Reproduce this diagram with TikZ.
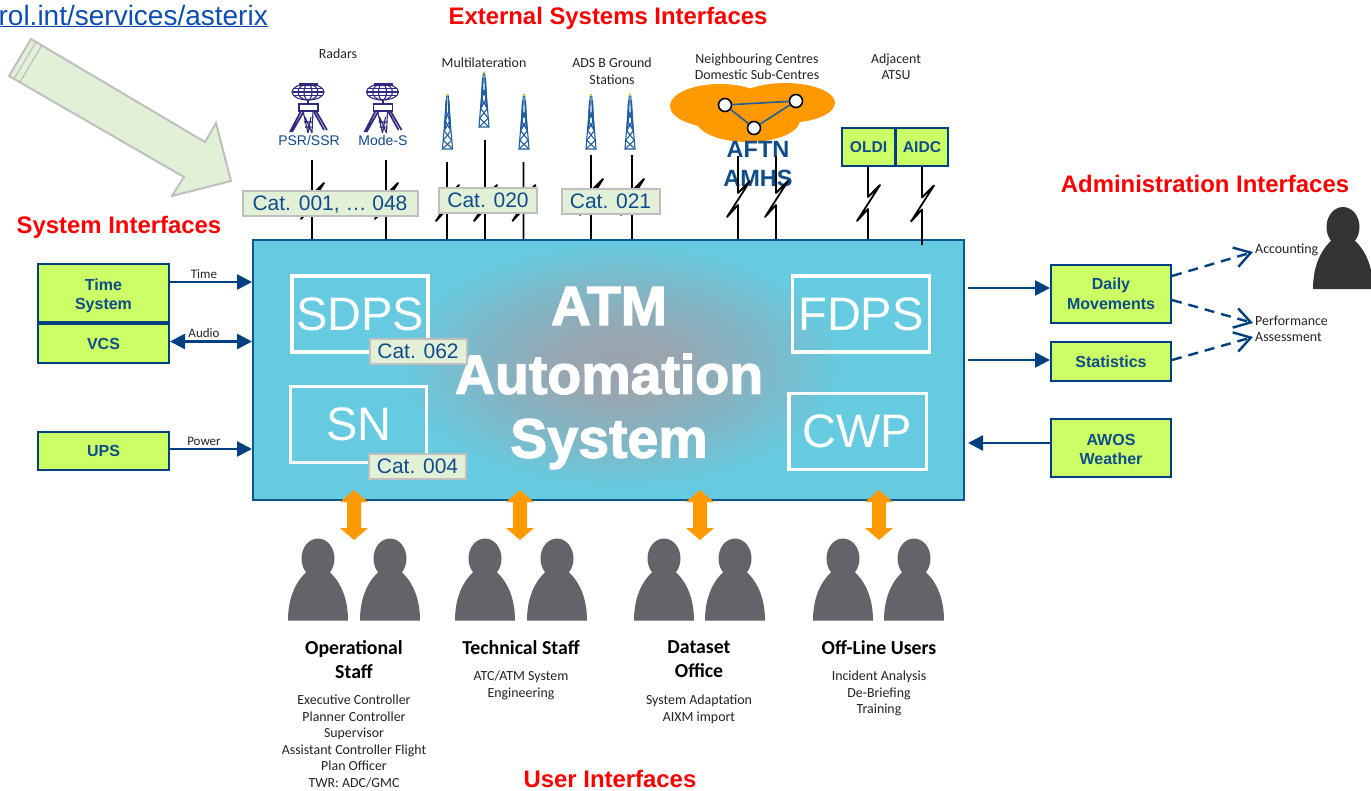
\documentclass[tikz,border=0pt]{standalone}
\usepackage{fontspec}
\setmainfont{Liberation Sans}
\newfontfamily\carlito{Carlito}
\newfontfamily\atmfont[FakeBold=2.2]{Liberation Sans Bold}
\usetikzlibrary{arrows.meta,calc}
\definecolor{navy}{HTML}{004080}
\definecolor{navytext}{HTML}{0F4C8A}
\definecolor{lime}{HTML}{CCFF66}
\definecolor{teal1}{HTML}{66CBE0}
\definecolor{catfill}{HTML}{E3F0D8}
\definecolor{catline}{HTML}{BFBFBF}
\definecolor{orng}{HTML}{FF9900}
\definecolor{persongray}{HTML}{636369}
\definecolor{urlblue}{HTML}{0B4DB3}
\definecolor{radarblue}{HTML}{2E2A7F}
\definecolor{towerblue}{HTML}{1F5E9E}
\definecolor{labelk}{HTML}{222222}
\pgfdeclareradialshading{atmglow}{\pgfpointorigin}{rgb(0bp)=(0.60,0.64,0.68);rgb(6bp)=(0.60,0.65,0.69);rgb(15bp)=(0.51,0.71,0.77);rgb(25bp)=(0.40,0.796,0.878);rgb(50bp)=(0.40,0.796,0.878)}
\tikzset{
  title/.style={text=red,font=\fontsize{23.9}{28}\selectfont\bfseries,inner sep=0pt},
  greenbox/.style={draw=navy,fill=lime,line width=2pt,text=navytext,inner sep=0pt,align=center,font=\fontsize{16}{19.5}\selectfont\bfseries},
  catbox/.style={draw=catline,fill=catfill,line width=2pt,text=navytext,inner sep=0pt,text height=15pt,text depth=0pt,font=\fontsize{21}{25}\selectfont},
  inner box/.style={draw=white,line width=3.5pt,text=white,inner sep=0pt,font=\fontsize{47}{50}\selectfont},
  smalltext/.style={text=labelk,inner sep=0pt,align=center,font=\carlito\fontsize{13.9}{16.5}\selectfont},
  grouptext/.style={text=black,inner sep=0pt,align=center,font=\carlito\fontsize{19.8}{24}\selectfont\bfseries},
  atmtext/.style={text=white,inner sep=0pt,font=\atmfont\fontsize{55.5}{60}\selectfont},
  link/.style={draw=navy,line width=2.6pt},
  bigtip/.style={-{Triangle[length=15pt,width=15pt]}},
  bigtips/.style={{Triangle[length=15pt,width=15pt]}-{Triangle[length=15pt,width=15pt]}},
  dashlink/.style={draw=navy,line width=2.4pt,dash pattern=on 10pt off 7pt,-{Straight Barb[length=16pt,width=20pt,line width=2.4pt]}},
  boltline/.style={draw=black,line width=1.8pt,line join=round},
}
% name, x, ytop, ymid, end
\newcommand\boltto[5]{%
  \coordinate (#1) at (#2,#3);
  \draw[boltline] (#1) -- (#2,{#4-6}) -- ({#2+12},{#4-18}) -- ({#2-11},{#4+18}) -- (#2,{#4+6}) -- (#5);
}
\newcommand\personico[3]{%
  \fill[#3,shift={(#1,#2)}] (-30,62) .. controls (-30,42) and (-24,24) .. (-10,12) -- (10,12) .. controls (24,24) and (30,42) .. (30,62) -- cycle;
  \fill[#3,shift={(#1,#2)}] (0,0) ellipse [x radius=16.5,y radius=20];
}
\newcommand\userarrow[1]{%
  \fill[orng,shift={(#1,490)}] (0,0) -- (14,12) -- (7,12) -- (7,38) -- (14,38) -- (0,50) -- (-14,38) -- (-7,38) -- (-7,12) -- (-14,12) -- cycle;
}
\newcommand\towerico[3]{%
  \begin{scope}[shift={(#1,#2)},draw=towerblue,line width=1.1pt]
    \pgfmathsetmacro\hh{#3-#2}
    \draw (-0.6,0) -- (-5,\hh) -- (5,\hh) -- (0.6,0) -- cycle;
    \foreach \a/\b in {0.30/0.48,0.48/0.66,0.66/0.84,0.84/1.0}{
      \draw ({-5*\a},{\a*\hh}) -- ({5*\b},{\b*\hh});
      \draw ({5*\a},{\a*\hh}) -- ({-5*\b},{\b*\hh});
    }
    \draw[line width=1.8pt] (-1.2,{0.1*\hh}) -- (-2.4,{0.62*\hh}) (1.2,{0.1*\hh}) -- (2.4,{0.62*\hh});
    \fill[yellow!90!black] (0,0.5) circle (1.2);
  \end{scope}
}
\newcommand\radarico[2]{%
  \begin{scope}[shift={(#1,#2)},draw=radarblue,line width=1.1pt]
    \fill[radarblue] (-9,-9) rectangle (10,-6);
    \draw (0,0) ellipse [x radius=16,y radius=8];
    \draw (0,0) ellipse [x radius=10,y radius=8];
    \draw (0,0) ellipse [x radius=4,y radius=8];
    \draw (-16,0) -- (16,0) (-14.5,-3.5) -- (14.5,-3.5) (-14.5,3.5) -- (14.5,3.5);
    \draw[line width=2pt] (0,8) -- (0,12);
    \draw[line width=1.4pt] (-9,12) rectangle (10,19);
    \draw[line width=1.7pt] (-7,19) -- (-18,40) (-4,19) -- (-16,40) (8,19) -- (19,38) (6,20) -- (16,38);
    \draw (-5,19) -- (0,41) (5,19) -- (4,41) (-3,25) -- (4,41) (3,25) -- (0,41) (-4,30) -- (4,30) (-3,35) -- (3,35);
  \end{scope}
}
\begin{document}
\begin{tikzpicture}[x=1pt,y=-1pt]
\useasboundingbox (0,0) rectangle (1371,790);

% titles
\node[title] (tExt) at (608,18.5) {External Systems Interfaces};
\node[title] (tSys) at (119,227) {System Interfaces};
\node[title] (tAdm) at (1205,184) {Administration Interfaces};
\node[title] (tUsr) at (610,778.5) {User Interfaces};

% url
\node[anchor=base east,inner sep=0pt,text=urlblue,font=\fontsize{28}{32}\selectfont] (url) at (268,25) {\underline{rol.int/services/asterix}};

% big arrow
\filldraw[fill=catfill,draw=catline,line width=2pt,line join=miter] (31,39) -- (205,142) -- (216,123) -- (231,181) -- (172,196) -- (184,177) -- (9,76) -- cycle;
\draw[catline,line width=1.2pt] (36,42) -- (14,79) (42,45) -- (20,82);

% main system
\node[draw=navy!85!teal1,fill=teal1,line width=2pt,minimum width=711pt,minimum height=260pt,inner sep=0pt] (main) at (608.5,370) {};
\shade[shading=atmglow] (620,365) ellipse [x radius=225,y radius=124];

\node[inner box,minimum width=136pt,minimum height=76pt] (sdps) at (360.2,314) {SDPS};
\node[inner box,minimum width=136pt,minimum height=76pt] (sn) at (358.7,424.5) {SN};
\node[inner box,minimum width=137pt,minimum height=76pt] (fdps) at (861,314) {FDPS};
\node[inner box,minimum width=137.5pt,minimum height=76pt] (cwp) at (857.5,431.5) {CWP};

\node[atmtext] (atm1) at (609,306) {ATM};
\node[atmtext] (atm2) at (609,374) {Automation};
\node[atmtext] (atm3) at (609,444) {System};

% external labels and icons
\node[smalltext] (radars) at (338,54) {Radars};
\node[smalltext] (mlat) at (484,63) {Multilateration};
\node[smalltext] (ads) at (612,71) {ADS B Ground\\Stations};
\node[smalltext] (neigh) at (757,66.5) {Neighbouring Centres\\Domestic Sub-Centres};
\node[smalltext] (adj) at (896,66.5) {Adjacent\\ATSU};

\radarico{308}{92}
\radarico{382.5}{92}
\node[text=navytext,inner sep=0pt,font=\fontsize{14}{16}\selectfont] (psr) at (309,140) {PSR/SSR};
\node[text=navytext,inner sep=0pt,font=\fontsize{14}{16}\selectfont] (modes) at (383,140) {Mode-S};

\towerico{447.5}{95}{149}
\towerico{484}{72.5}{127}
\towerico{524}{95}{149}
\towerico{591}{95}{149}
\towerico{630}{95}{149}

% cloud
\fill[orng] (720,106) ellipse [x radius=50,y radius=22];
\fill[orng] (785,103) ellipse [x radius=50,y radius=20];
\fill[orng] (748,120) ellipse [x radius=52,y radius=22];
\node[draw=black,fill=white,circle,line width=1.6pt,minimum size=13pt,inner sep=0pt] (n1) at (725,105) {};
\node[draw=black,fill=white,circle,line width=1.6pt,minimum size=13pt,inner sep=0pt] (n2) at (796,101) {};
\node[draw=black,fill=white,circle,line width=1.6pt,minimum size=13pt,inner sep=0pt] (n3) at (754,128) {};
\draw[towerblue,line width=1.6pt] (n1) -- (n2) -- (n3) -- (n1);
\node[text=navytext,inner sep=0pt,align=center,font=\fontsize{23.5}{29}\selectfont\bfseries] (aftn) at (758,164.5) {AFTN\\AMHS};

% adjacent boxes
\node[greenbox,minimum width=53pt,minimum height=38pt,font=\fontsize{15.6}{19}\selectfont\bfseries] (oldi) at (868.5,147) {OLDI};
\node[greenbox,minimum width=52pt,minimum height=38pt,font=\fontsize{15.6}{19}\selectfont\bfseries] (aidc) at (922,147) {AIDC};

% external connectors
\boltto{c1}{312}{160}{201}{c1 |- main.north}
\boltto{c2}{386}{160}{201}{c2 |- main.north}
\boltto{c3}{447}{162}{203}{c3 |- main.north}
\boltto{c4}{485}{140}{203}{c4 |- main.north}
\boltto{c5}{523.5}{162}{203}{c5 |- main.north}
\boltto{c6}{591}{155}{197}{c6 |- main.north}
\boltto{c7}{632}{155}{197}{c7 |- main.north}
\boltto{c8}{738}{156}{199}{c8 |- main.north}
\boltto{c9}{776}{156}{199}{c9 |- main.north}
\boltto{c10}{868}{167}{203}{c10 |- main.north}
\coordinate (aidcend) at (922,245);
\boltto{c11}{922}{167}{203.5}{aidcend}

% category labels
\node[catbox,minimum width=175pt,minimum height=25pt] (cat1) at (330,203) {Cat. 001, … 048};
\node[catbox,minimum width=98pt,minimum height=25pt] (cat2) at (488,200) {Cat. 020};
\node[catbox,minimum width=98pt,minimum height=25pt] (cat3) at (610.5,201) {Cat. 021};
\node[catbox,minimum width=97pt,minimum height=25pt] (cat4) at (418,351) {Cat. 062};
\node[catbox,minimum width=97pt,minimum height=25pt] (cat5) at (417.5,466) {Cat. 004};

% left system boxes
\node[greenbox,minimum width=131pt,minimum height=58pt] (time) at (103.5,293) {\rule{0pt}{17pt}Time\\System};
\node[greenbox,minimum width=131pt,minimum height=39pt] (vcs) at (103.5,343.5) {VCS};
\node[greenbox,minimum width=131pt,minimum height=38pt] (ups) at (103.5,451) {UPS};
\draw[link,bigtip] (time.east |- 0,282) -- (main.west |- 0,282);
\draw[link,bigtips] (vcs.east |- 0,341.5) -- (main.west |- 0,341.5);
\draw[link,bigtip] (ups.east |- 0,449) -- (main.west |- 0,449);
\node[smalltext,font=\carlito\fontsize{13}{15}\selectfont] (ltime) at (204,274) {Time};
\node[smalltext,font=\carlito\fontsize{13}{15}\selectfont] (laudio) at (204,333) {Audio};
\node[smalltext,font=\carlito\fontsize{13}{15}\selectfont] (lpower) at (204,441) {Power};

% right boxes
\node[greenbox,minimum width=120pt,minimum height=58pt] (daily) at (1111,294) {Daily\\Movements};
\node[greenbox,minimum width=120pt,minimum height=39pt] (stats) at (1111,361.5) {Statistics};
\node[greenbox,minimum width=120pt,minimum height=58pt] (awos) at (1111,448) {\rule{0pt}{14pt}AWOS\\Weather};
\coordinate (mr1) at (968,288);
\coordinate (mr2) at (968,360);
\coordinate (mr3) at (968,443);
\draw[link,bigtip] (mr1) -- (daily.west |- mr1);
\draw[link,bigtip] (mr2) -- (stats.west |- mr2);
\draw[link,bigtip] (awos.west |- mr3) -- (mr3);

% admin
\personico{1343}{227}{black!80}
\node[smalltext,anchor=west] (acc) at (1255,250) {Accounting};
\node[smalltext,anchor=west,align=left] (perf) at (1255,329) {Performance\\Assessment};
\coordinate (t1) at (1253,252);
\coordinate (t2) at (1253,323);
\coordinate (t3) at (1253,337);
\draw[dashlink] (daily.east |- 0,276) -- (t1);
\draw[dashlink] (daily.east |- 0,300) -- (t2);
\draw[dashlink] (stats.east |- 0,360) -- (t3);

% users
\userarrow{354}
\userarrow{520}
\userarrow{700}
\userarrow{879}
\personico{318}{558.5}{persongray}
\personico{390}{558.5}{persongray}
\personico{485}{558.5}{persongray}
\personico{557}{558.5}{persongray}
\personico{664}{558.5}{persongray}
\personico{735}{558.5}{persongray}
\personico{843}{558.5}{persongray}
\personico{914}{558.5}{persongray}

\node[grouptext,anchor=north] (g1) at (354,640) {Operational\\Staff};
\node[grouptext,anchor=north] (g2) at (521,640) {Technical Staff};
\node[grouptext,anchor=north] (g3) at (699,640) {Dataset\\Office};
\node[grouptext,anchor=north] (g4) at (879,640) {Off-Line Users};

\node[smalltext,anchor=north] (s1) at (354,695) {Executive Controller\\Planner Controller\\Supervisor\\Assistant Controller Flight\\Plan Officer\\TWR: ADC/GMC};
\node[smalltext,anchor=north] (s2) at (521,671) {ATC/ATM System\\Engineering};
\node[smalltext,anchor=north] (s3) at (699,695) {System Adaptation\\AIXM import};
\node[smalltext,anchor=north] (s4) at (879,671) {Incident Analysis\\De-Briefing\\Training};
\end{tikzpicture}
\end{document}
